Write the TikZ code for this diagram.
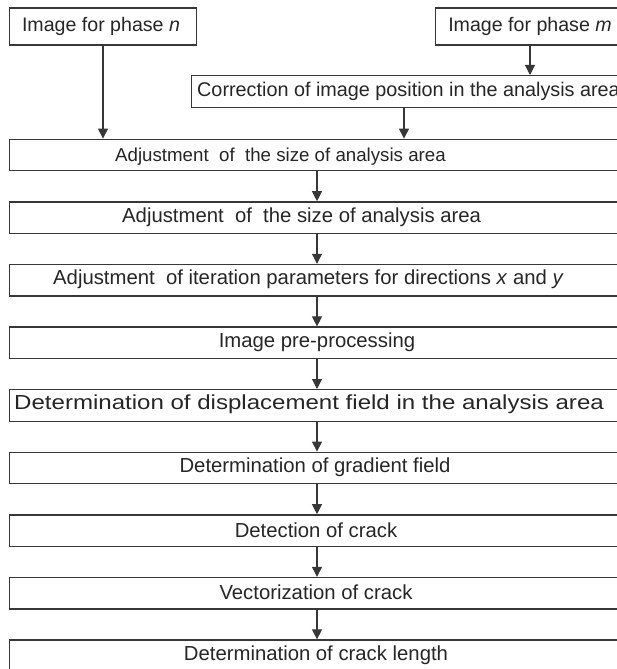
\documentclass[tikz,border=0pt]{standalone}
\usepackage{fontspec}
\usepackage{graphicx}
\setmainfont{Liberation Sans}
\usetikzlibrary{arrows.meta}
\definecolor{ln}{RGB}{55,55,55}
\tikzset{
  box/.style={draw=ln, line width=1.3pt, fill=white, inner sep=0pt, anchor=north west},
  txt/.style={inner sep=0pt, font=\fontsize{20.3}{23}\selectfont, text=black!85},
  arr/.style={draw=ln, line width=1.1pt, -{Triangle[width=10pt,length=10pt]}}
}
\begin{document}
\begin{tikzpicture}[x=1pt,y=-1pt]
\useasboundingbox (0,0) rectangle (617,669);
\clip (0,0) rectangle (617,669);
% top boxes
\node[box, minimum width=187.3pt, minimum height=37.2pt] (n) at (8.7,7.3) {};
\node[txt, font=\fontsize{19.6}{23}\selectfont] at (101,26) {Image for phase \textit{n}};
\node[box, minimum width=187pt, minimum height=37.2pt] (m) at (435,7.3) {};
\node[txt, font=\fontsize{19.6}{23}\selectfont] at (530,26) {Image for phase \textit{m}};
\node[box, minimum width=450pt, minimum height=32pt] (c) at (190.7,75) {};
\node[txt, anchor=west, font=\fontsize{19.8}{23}\selectfont] at (197,91) {Correction of image position in the analysis area};
% main boxes
\foreach \i/\t in {1/138.6,2/201.2,3/263.8,4/326.4,5/389,6/451.6,7/514.2,8/576.8,9/639.4}{
  \node[box, minimum width=615.3pt, minimum height=31.5pt] (b\i) at (8.7,\t) {};
}
\node[txt, anchor=west, font=\fontsize{18.7}{22}\selectfont] at (115,157) {Adjustment\ \ of\ \ the size of analysis area};
\node[txt, anchor=west] at (122,217) {Adjustment\ \ of\ \ the size of analysis area};
\node[txt, anchor=west] at (53,279.5) {Adjustment\ \ of iteration parameters for directions \textit{x} and \textit{y}};
\node[txt] at (317,342) {Image pre-processing};
\node[txt, anchor=west] at (14,404.5) {\scalebox{1.185}[1]{Determination of displacement field in the analysis area}};
\node[txt] at (315,467) {Determination of gradient field};
\node[txt] at (316,530) {Detection of crack};
\node[txt] at (316,592.5) {Vectorization of crack};
\node[txt] at (316,655) {Determination of crack length};
% connectors
\coordinate (nx) at (103,0);
\coordinate (mx) at (530,0);
\coordinate (cx) at (404,0);
\draw[arr] (n.south -| nx) -- (b1.north -| nx);
\draw[arr] (m.south -| mx) -- (c.north -| mx);
\draw[arr] (c.south -| cx) -- (b1.north -| cx);
\foreach \i/\j in {1/2,2/3,3/4,4/5,5/6,6/7,7/8,8/9}{
  \draw[arr] (b\i.south) -- (b\j.north);
}
\end{tikzpicture}
\end{document}
